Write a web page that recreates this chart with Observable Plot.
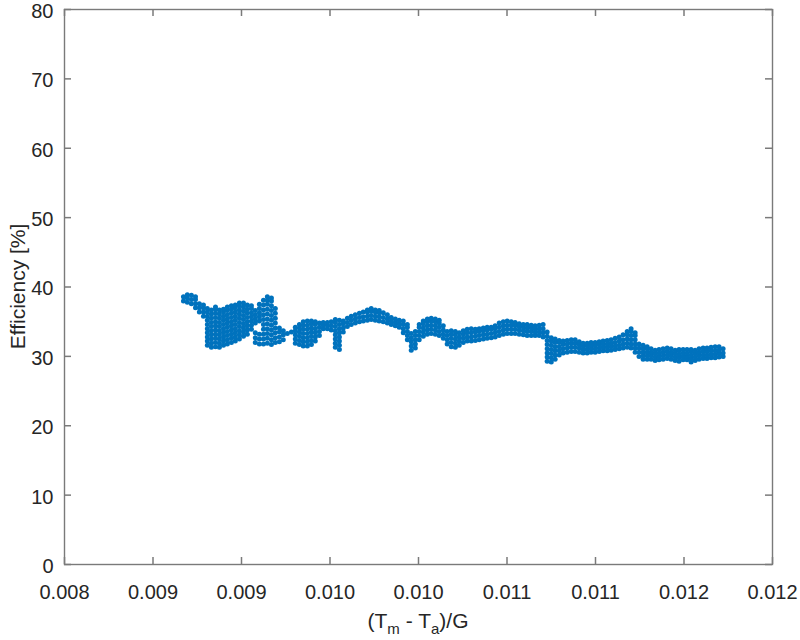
<!DOCTYPE html>
<html>
<head>
<meta charset="utf-8">
<script src="https://cdn.jsdelivr.net/npm/d3@7"></script>
<script src="https://cdn.jsdelivr.net/npm/@observablehq/plot@0.6"></script>
<style>
  body { margin: 0; background: #ffffff; }
  #chart svg { display: block; }
</style>
</head>
<body>
<div id="chart"></div>
<script>
// ---- axis ticks ----
const xTicks = [0.008, 0.0085, 0.009, 0.0095, 0.010, 0.0105, 0.011, 0.0115, 0.012];
const xTickLabels = ["0.008", "0.009", "0.009", "0.010", "0.010", "0.011", "0.011", "0.012", "0.012"];
const yTicks = [0, 10, 20, 30, 40, 50, 60, 70, 80];

// ---- measured data: x value of each column and the efficiency readings found there ----
const colX = [
  0.008672, 0.008694, 0.008717, 0.008740, 0.008762, 0.008785, 0.008807, 0.008830, 0.008853, 0.008875,
  0.008898, 0.008920, 0.008943, 0.008965, 0.008988, 0.009011, 0.009033, 0.009056, 0.009078, 0.009101,
  0.009124, 0.009146, 0.009169, 0.009191, 0.009214, 0.009236, 0.009259, 0.009282,
  0.009304, 0.009327, 0.009349, 0.009372, 0.009395, 0.009417, 0.009440, 0.009462, 0.009485, 0.009507,
  0.009530, 0.009553, 0.009575, 0.009598, 0.009620, 0.009643, 0.009666, 0.009688, 0.009711, 0.009733,
  0.009756, 0.009778, 0.009801, 0.009824, 0.009846, 0.009869, 0.009891, 0.009914, 0.009937, 0.009959,
  0.009982, 0.010004, 0.010027, 0.010050, 0.010072, 0.010095, 0.010117, 0.010140, 0.010162, 0.010185,
  0.010208, 0.010230, 0.010253, 0.010275, 0.010298, 0.010321, 0.010343, 0.010366, 0.010388, 0.010411,
  0.010433, 0.010456, 0.010479, 0.010501, 0.010524, 0.010546, 0.010569, 0.010592, 0.010614, 0.010637,
  0.010659, 0.010682, 0.010704, 0.010727, 0.010750, 0.010772, 0.010795, 0.010817, 0.010840, 0.010863,
  0.010885, 0.010908, 0.010930, 0.010953, 0.010975, 0.010998, 0.011021, 0.011043, 0.011066, 0.011088,
  0.011111, 0.011134, 0.011156, 0.011179, 0.011201, 0.011224, 0.011246, 0.011269, 0.011292, 0.011314,
  0.011337, 0.011359, 0.011382, 0.011405, 0.011427, 0.011450, 0.011472, 0.011495, 0.011517, 0.011540,
  0.011563, 0.011585, 0.011608, 0.011630, 0.011653, 0.011676, 0.011698, 0.011721
];
const colY = [
  [38.0, 38.6],
  [37.8, 38.4, 38.9],
  [37.6, 38.2, 38.8],
  [37.0, 37.6, 38.2, 38.6],
  [36.4, 37.0, 37.6],
  [35.8, 36.4, 37.0, 37.4],
  [31.6, 32.2, 32.8, 33.4, 34.0, 34.6, 35.2, 35.8, 36.4, 36.9],
  [31.3, 31.9, 32.5, 33.1, 33.7, 34.3, 34.9, 35.5, 36.1, 36.7],
  [31.4, 32.0, 32.6, 33.2, 33.8, 34.4, 35.0, 35.6, 36.2, 36.8, 37.1],
  [31.3, 31.9, 32.5, 33.1, 33.7, 34.3, 34.9, 35.5, 36.1, 36.7],
  [31.6, 32.2, 32.8, 33.4, 34.0, 34.6, 35.2, 35.8, 36.4, 36.8],
  [31.8, 32.4, 33.0, 33.6, 34.2, 34.8, 35.4, 36.0, 36.6, 37.1],
  [32.0, 32.6, 33.2, 33.8, 34.4, 35.0, 35.6, 36.2, 36.8, 37.3],
  [32.2, 32.8, 33.4, 34.0, 34.6, 35.2, 35.8, 36.4, 37.0, 37.4],
  [32.5, 33.1, 33.7, 34.3, 34.9, 35.5, 36.1, 36.7, 37.3, 37.7],
  [32.9, 33.5, 34.1, 34.7, 35.3, 35.9, 36.5, 37.1, 37.7],
  [33.2, 33.8, 34.4, 35.0, 35.6, 36.2, 36.8, 37.4],
  [33.9, 34.5, 35.1, 35.7, 36.3, 36.9, 37.3],
  [32.0, 32.7, 33.4, 34.8, 35.4, 36.0, 36.6],
  [31.8, 32.5, 33.2, 35.1, 35.7, 36.3, 36.9, 37.5],
  [31.8, 32.5, 33.2, 33.9, 34.6, 35.3, 36.0, 36.7, 37.4, 38.1],
  [31.9, 32.6, 33.3, 34.0, 34.7, 35.4, 36.1, 36.8, 37.5, 38.1, 38.6],
  [31.7, 32.4, 33.1, 33.8, 34.5, 35.2, 35.9, 36.6, 37.3, 38.0, 38.4],
  [32.0, 32.7, 33.4, 34.1, 34.8, 35.5, 36.2, 36.9],
  [32.1, 32.8, 33.5, 34.1],
  [32.4, 33.1, 33.7],
  [33.3],
  [33.5],
  [31.9, 32.5, 33.1, 33.7, 34.2],
  [31.7, 32.3, 32.9, 33.5, 34.1, 34.6],
  [31.5, 32.1, 32.7, 33.3, 33.9, 34.5, 35.0],
  [31.5, 32.1, 32.7, 33.3, 33.9, 34.5, 35.1],
  [31.7, 32.3, 32.9, 33.5, 34.1, 34.7, 35.1],
  [32.2, 32.8, 33.4, 34.0, 34.6, 35.0],
  [33.0, 33.6, 34.2, 34.8],
  [34.0, 34.5, 34.9],
  [34.0, 34.5, 34.9],
  [33.8, 34.4, 35.0],
  [31.3, 31.9, 32.5, 33.1, 33.7, 34.3, 34.9, 35.3],
  [31.0, 31.6, 32.2, 32.8, 33.4, 34.0, 34.6, 35.2],
  [33.5, 34.1, 34.7, 35.1],
  [34.3, 34.9, 35.5],
  [34.6, 35.2, 35.8],
  [34.8, 35.4, 36.0],
  [35.0, 35.6, 36.2],
  [35.1, 35.7, 36.4],
  [35.2, 35.8, 36.4, 36.7],
  [35.3, 35.9, 36.5, 36.9],
  [35.2, 35.8, 36.4, 36.7],
  [35.1, 35.7, 36.3, 36.6],
  [35.0, 35.6, 36.3],
  [34.8, 35.4, 36.0],
  [34.6, 35.1, 35.6],
  [34.4, 34.9, 35.4],
  [34.2, 34.7, 35.2],
  [33.4, 34.0, 34.6, 35.1],
  [32.4, 33.0, 33.6, 34.2, 34.6],
  [30.9, 31.5, 32.1, 32.7, 33.3],
  [31.2, 31.8, 32.4, 33.0, 33.6],
  [32.4, 33.0, 33.6, 34.2, 34.6],
  [32.9, 33.5, 34.1, 34.7, 35.1],
  [33.2, 33.8, 34.4, 35.0, 35.4],
  [33.3, 33.9, 34.5, 35.1, 35.5],
  [33.2, 33.8, 34.4, 35.0, 35.4],
  [33.0, 33.6, 34.2, 34.8, 35.2],
  [32.6, 33.2, 33.8, 34.4],
  [31.8, 32.4, 33.0, 33.6],
  [31.4, 32.0, 32.6, 33.2, 33.7],
  [31.3, 31.9, 32.5, 33.1, 33.6],
  [31.6, 32.2, 32.8, 33.4],
  [32.0, 32.6, 33.2, 33.7],
  [32.2, 32.8, 33.4, 33.9],
  [32.2, 32.8, 33.4, 34.0],
  [32.3, 32.9, 33.5, 33.9],
  [32.4, 33.0, 33.6, 34.0],
  [32.5, 33.1, 33.7, 34.1],
  [32.6, 33.2, 33.8, 34.2],
  [32.7, 33.3, 33.9, 34.2],
  [32.8, 33.4, 34.0, 34.4],
  [33.0, 33.6, 34.2, 34.8],
  [33.2, 33.8, 34.4, 35.0],
  [33.3, 33.9, 34.5, 35.1],
  [33.3, 33.9, 34.5, 35.0],
  [33.3, 33.9, 34.5, 34.9],
  [33.2, 33.8, 34.3, 34.7],
  [33.1, 33.7, 34.2, 34.6],
  [33.0, 33.6, 34.1, 34.6],
  [33.0, 33.6, 34.1, 34.5],
  [33.0, 33.5, 34.0, 34.4],
  [33.0, 33.5, 34.0, 34.5],
  [32.8, 33.4, 34.0, 34.6],
  [29.3, 29.9, 30.5, 31.1, 31.7, 32.3, 32.9, 33.5],
  [29.2, 29.8, 30.4, 31.0, 31.6, 32.2, 32.7],
  [29.6, 30.2, 30.8, 31.4, 32.0, 32.5],
  [30.2, 30.8, 31.4, 32.0, 32.3],
  [30.5, 31.1, 31.7, 32.2],
  [30.6, 31.2, 31.8, 32.3],
  [30.7, 31.3, 31.9, 32.4],
  [30.7, 31.3, 31.9, 32.4],
  [30.6, 31.2, 31.7, 32.1],
  [30.5, 31.0, 31.5, 31.9],
  [30.5, 31.0, 31.5, 31.9],
  [30.6, 31.1, 31.6, 32.0],
  [30.6, 31.1, 31.6, 32.0],
  [30.7, 31.2, 31.7, 32.1],
  [30.8, 31.3, 31.8, 32.2],
  [30.8, 31.3, 31.8, 32.3],
  [30.9, 31.4, 31.9, 32.4],
  [31.0, 31.5, 32.0, 32.6],
  [31.1, 31.6, 32.2, 32.8],
  [31.2, 31.8, 32.4, 33.1],
  [31.3, 31.9, 32.5, 33.1, 33.6],
  [31.2, 31.8, 32.4, 33.0, 33.6, 34.0],
  [30.6, 31.2, 31.8, 32.4, 33.0, 33.4],
  [30.0, 30.6, 31.2, 31.8],
  [29.6, 30.1, 30.6, 31.1, 31.6],
  [29.6, 30.1, 30.6, 31.1, 31.4],
  [29.6, 30.1, 30.6, 31.1],
  [29.4, 29.9, 30.4, 30.9],
  [29.5, 30.0, 30.5, 31.0],
  [29.6, 30.1, 30.6, 31.1],
  [29.7, 30.2, 30.7, 31.2],
  [29.6, 30.1, 30.6, 31.1],
  [29.4, 29.9, 30.4, 30.9],
  [29.3, 29.8, 30.3, 30.8, 31.0],
  [29.5, 30.0, 30.5, 31.0],
  [29.5, 30.0, 30.5, 31.0],
  [29.2, 29.7, 30.2, 30.7, 31.0],
  [29.4, 29.9, 30.4, 30.9],
  [29.6, 30.1, 30.6, 31.1],
  [29.7, 30.2, 30.7, 31.2],
  [29.7, 30.2, 30.7, 31.2],
  [29.8, 30.3, 30.8, 31.3],
  [29.8, 30.3, 30.8, 31.4],
  [29.9, 30.4, 30.9, 31.4],
  [30.0, 30.5, 31.1]
];

const points = colX.flatMap((x, i) => colY[i].map(y => ({x, y})));

// ---- styling ----
const fontFamily = "'Liberation Sans', Arial, Helvetica, sans-serif";
const axisColor = "#7a7a7a";
const textColor = "#262626";
const dotColor = "#0072BD";
const W = 800, H = 640;
const mL = 64, mR = 28, mT = 9, mB = 76;
const plotW = W - mL - mR, plotH = H - mT - mB;
const tickLen = 7;
const tickStyle = {stroke: axisColor, strokeWidth: 1.5};

const chart = Plot.plot({
  width: W,
  height: H,
  marginLeft: mL,
  marginRight: mR,
  marginTop: mT,
  marginBottom: mB,
  style: {fontFamily, fontSize: "20px", color: textColor, background: "#ffffff", overflow: "visible"},
  x: {domain: [0.008, 0.012], label: null},
  y: {domain: [0, 80], label: null},
  marks: [
    Plot.dot(points, {x: "x", y: "y", r: 2.5, fill: dotColor, stroke: "none"}),
    // inward tick marks on all four sides
    Plot.tickX(xTicks, {x: d => d, insetTop: plotH - tickLen, ...tickStyle}),
    Plot.tickX(xTicks, {x: d => d, insetBottom: plotH - tickLen, ...tickStyle}),
    Plot.tickY(yTicks, {y: d => d, insetRight: plotW - tickLen, ...tickStyle}),
    Plot.tickY(yTicks, {y: d => d, insetLeft: plotW - tickLen, ...tickStyle}),
    Plot.frame({stroke: axisColor, strokeWidth: 1.4}),
    // tick labels
    Plot.axisX({ticks: xTicks, tickFormat: d => xTickLabels[xTicks.indexOf(d)], tickSize: 0, tickPadding: 20, fill: textColor, fontSize: 20}),
    Plot.axisY({ticks: yTicks, tickFormat: d => String(d), tickSize: 0, tickPadding: 11, dy: 2, fill: textColor, fontSize: 20})
  ]
});

document.getElementById("chart").appendChild(chart);

// ---- axis titles (with subscripts) ----
const svg = d3.select(chart);
const cx = (mL + (W - mR)) / 2;
const cy = (mT + (H - mB)) / 2;

const xt = svg.append("text")
  .attr("x", cx)
  .attr("y", H - 12)
  .attr("text-anchor", "middle")
  .attr("fill", textColor)
  .style("font-family", fontFamily)
  .style("font-size", "21px");
xt.append("tspan").text("(T");
xt.append("tspan").attr("dy", 6).style("font-size", "15px").text("m");
xt.append("tspan").attr("dy", -6).text(" - T");
xt.append("tspan").attr("dy", 6).style("font-size", "15px").text("a");
xt.append("tspan").attr("dy", -6).text(")/G");

svg.append("text")
  .attr("transform", `translate(25,${cy}) rotate(-90)`)
  .attr("text-anchor", "middle")
  .attr("fill", textColor)
  .style("font-family", fontFamily)
  .style("font-size", "21px")
  .text("Efficiency [%]");
</script>
</body>
</html>
